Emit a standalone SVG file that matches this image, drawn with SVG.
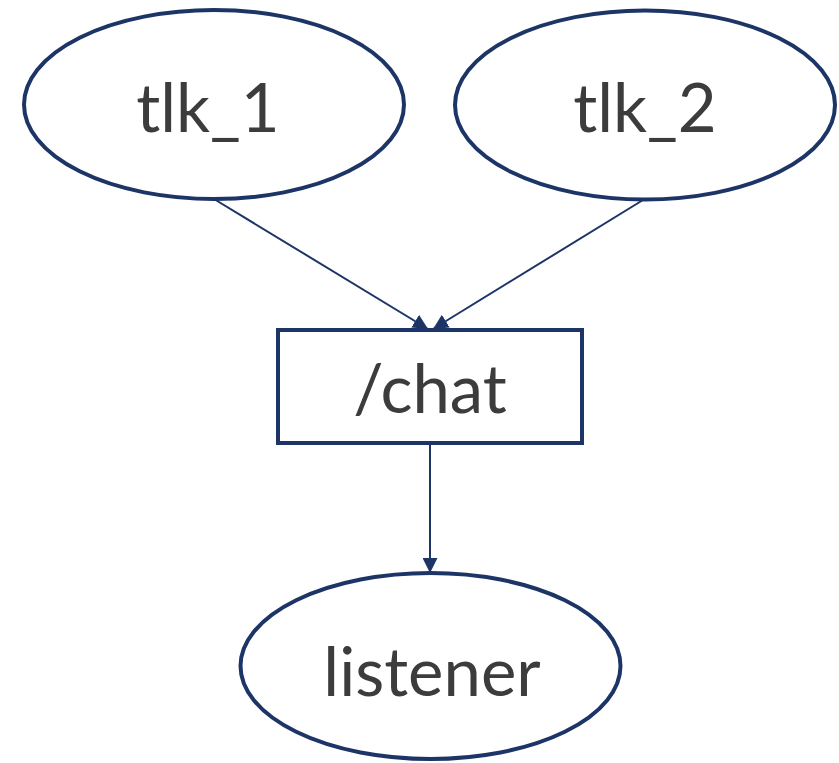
<svg xmlns="http://www.w3.org/2000/svg" width="839" height="763" viewBox="0 0 839 763">
  <style>
    .shape { fill: #ffffff; stroke: #1d3566; stroke-width: 4; }
    .edge { fill: none; stroke: #1d3566; stroke-width: 2; }
    .label { font-family: Lato, "Open Sans", "DejaVu Sans", sans-serif; font-size: 67px; fill: #3c3c3c; text-anchor: middle; }
  </style>
  <defs>
    <marker id="arrow" viewBox="0 0 10 10" refX="10" refY="5" markerWidth="15" markerHeight="15" markerUnits="userSpaceOnUse" orient="auto">
      <path d="M0,0 L10,5 L0,10 Z" fill="#1d3566"/>
    </marker>
  </defs>
  <rect width="839" height="763" fill="#ffffff"/>

  <g id="edges">
    <line class="edge" x1="214" y1="199" x2="428" y2="329" marker-end="url(#arrow)"/>
    <line class="edge" x1="643" y1="200" x2="433" y2="329" marker-end="url(#arrow)"/>
    <line class="edge" x1="430" y1="445" x2="430" y2="573" marker-end="url(#arrow)"/>
  </g>

  <g id="tlk_1">
    <ellipse class="shape" cx="214" cy="104.5" rx="190" ry="94.5"/>
    <text class="label" x="208" y="132">tlk_1</text>
  </g>

  <g id="tlk_2">
    <ellipse class="shape" cx="645" cy="105" rx="190" ry="94.5"/>
    <text class="label" x="645" y="132">tlk_2</text>
  </g>

  <g id="chat">
    <rect class="shape" x="278" y="330" width="304" height="113"/>
    <text class="label" x="430" y="413">/chat</text>
  </g>

  <g id="listener">
    <ellipse class="shape" cx="430.5" cy="666" rx="190" ry="93"/>
    <text class="label" x="432" y="696">listener</text>
  </g>
</svg>
